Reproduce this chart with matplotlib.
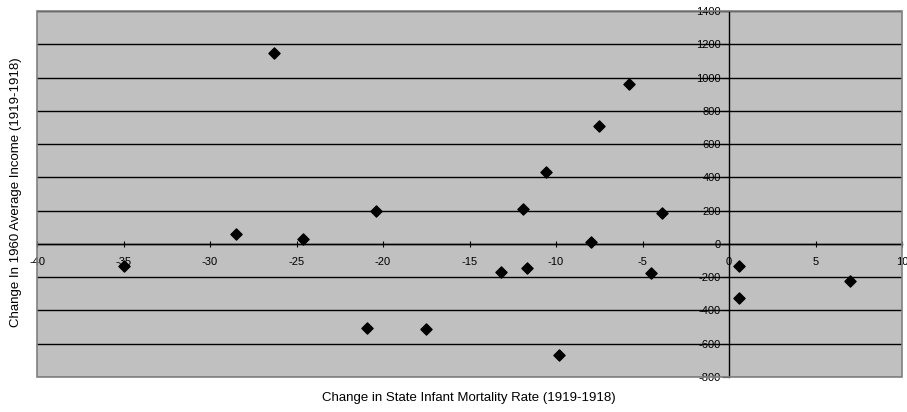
import matplotlib.pyplot as plt
from matplotlib.patches import Rectangle
import numpy as np

plt.rcParams['font.family'] = ['Liberation Sans', 'DejaVu Sans']
plt.rcParams['axes.unicode_minus'] = False

# Data
mortality_change = [-35.0, -28.5, -24.6, -26.3, -20.4, -20.9, -17.5, -13.2, -11.9, -11.7,
                    -10.6, -9.8, -8.0, -7.5, -5.8, -4.5, -3.9, 0.6, 0.6, 7.0]
income_change = [-130, 58, 32, 1146, 200, -508, -513, -166, 210, -145,
                 434, -667, 12, 711, 960, -176, 184, -130, -324, -224]

x_ticks = [-40, -35, -30, -25, -20, -15, -10, -5, 0, 5, 10]
y_ticks = [-800, -600, -400, -200, 0, 200, 400, 600, 800, 1000, 1200, 1400]

fig = plt.figure(figsize=(9.07, 4.12), dpi=100)
ax = fig.add_axes([0.0408, 0.085, 0.9537, 0.8883])
ax.set_facecolor('#C0C0C0')

ax.scatter(mortality_change, income_change, marker='D', s=32, color='black', zorder=3)

ax.set_xlim(-40, 10)
ax.set_ylim(-800, 1400)
ax.set_xticks(x_ticks)
ax.set_yticks(y_ticks)
ax.yaxis.grid(True, color='black', linewidth=1.0)
ax.set_axisbelow(True)

# axes cross at the origin, like the spreadsheet chart
ax.spines['left'].set_position(('data', 0))
ax.spines['bottom'].set_position(('data', 0))
for s in ['left', 'bottom']:
    ax.spines[s].set_color('black')
    ax.spines[s].set_linewidth(1.0)
for s in ['top', 'right']:
    ax.spines[s].set_visible(False)
ax.add_patch(Rectangle((0, 0), 1, 1, transform=ax.transAxes, fill=False,
                       edgecolor='#808080', linewidth=1.2, zorder=4, clip_on=False))

ax.tick_params(axis='both', labelsize=8, width=0.8, color='black')
ax.tick_params(axis='y', direction='out', length=5, pad=1)
ax.tick_params(axis='x', direction='inout', length=5, pad=7)

fig.text(0.517, 0.035, 'Change in State Infant Mortality Rate (1919-1918)',
         ha='center', va='center', fontsize=9.5)
fig.text(0.018, 0.534, 'Change In 1960 Average Income (1919-1918)',
         ha='center', va='center', rotation=90, fontsize=9.5)

fig.savefig('out.png', dpi=100)
